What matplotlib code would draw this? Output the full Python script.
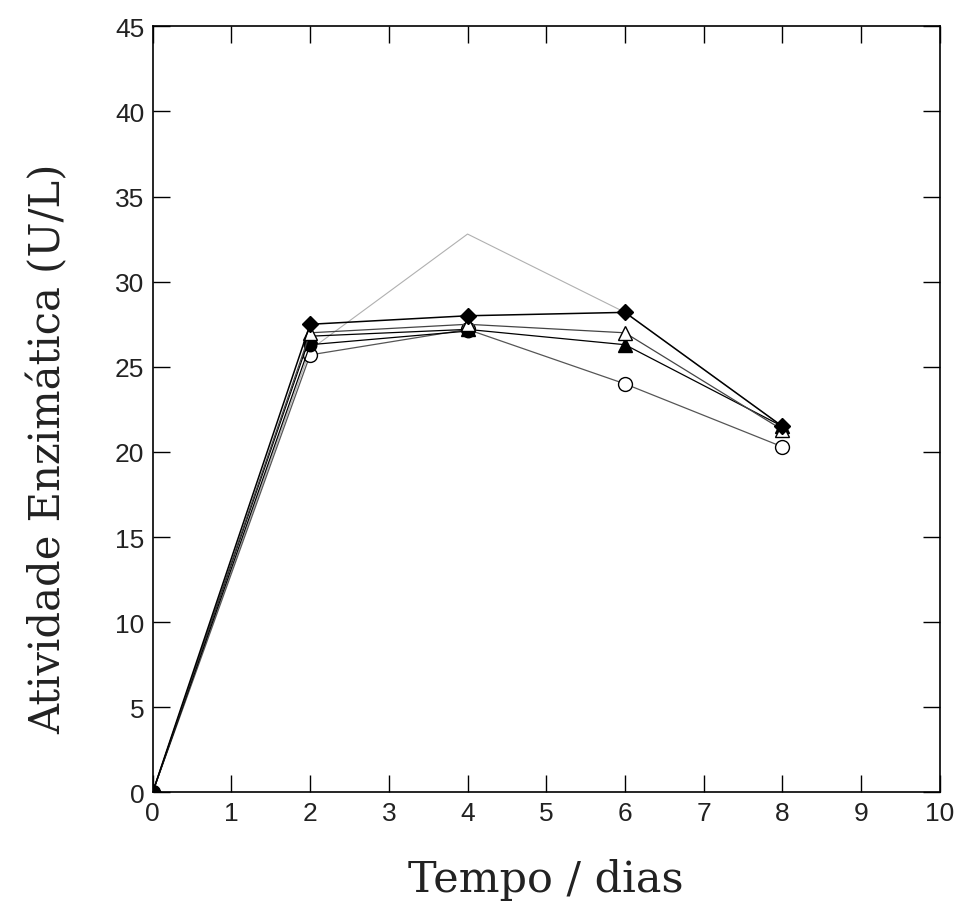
import matplotlib
matplotlib.use("Agg")
import matplotlib.pyplot as plt

dias = [0, 2, 4, 6, 8]
diamante = [0, 27.5, 28.0, 28.2, 21.5]
tri_aberto = [0, 27.0, 27.5, 27.0, 21.3]
tri_cheio = [0, 26.8, 27.2, 26.3, 21.5]
circ_aberto = [0, 25.7, 27.2, 24.0, 20.3]
circ_cheio_x = [0, 2, 4]
circ_cheio = [0, 26.3, 27.1]
cinza = [0, 26.0, 32.8, 28.2, 21.5]

fig = plt.figure(figsize=(9.66, 9.12), dpi=100)
ax = fig.add_axes([0.158, 0.130, 0.815, 0.840])

ax.plot(dias, cinza, color="#b0b0b0", lw=0.8)
ax.plot(dias, circ_aberto, color="#555555", lw=0.9, marker="o", ms=10,
        mfc="white", mec="black", mew=1.0)
ax.plot(circ_cheio_x, circ_cheio, color="black", lw=0.9, marker="o", ms=9,
        mfc="black", mec="black")
ax.plot(dias, tri_cheio, color="black", lw=0.9, marker="^", ms=10,
        mfc="black", mec="black")
ax.plot(dias, tri_aberto, color="#444444", lw=0.9, marker="^", ms=10,
        mfc="white", mec="black", mew=1.0)
ax.plot(dias, diamante, color="black", lw=1.1, marker="D", ms=8,
        mfc="black", mec="black")

ax.set_xlim(0, 10)
ax.set_ylim(0, 45)
ax.set_xticks(range(0, 11))
ax.set_yticks(range(0, 46, 5))
ax.tick_params(direction="in", length=12, width=1, top=True, right=True,
               labelsize=19, pad=6)
for lab in ax.get_xticklabels() + ax.get_yticklabels():
    lab.set_fontfamily("Liberation Sans")
    lab.set_fontweight("light")
    lab.set_color("#222222")
for s in ax.spines.values():
    s.set_linewidth(1.2)

ax.set_xlabel("Tempo / dias", fontsize=31, family="DejaVu Serif",
              fontweight="light", labelpad=24, color="#222222")
ax.set_ylabel("Atividade Enzimática (U/L)", fontsize=30, family="DejaVu Serif",
              fontweight="light", color="#222222")
ax.yaxis.set_label_coords(-0.105, 0.45)

fig.savefig("out.png", dpi=100)
